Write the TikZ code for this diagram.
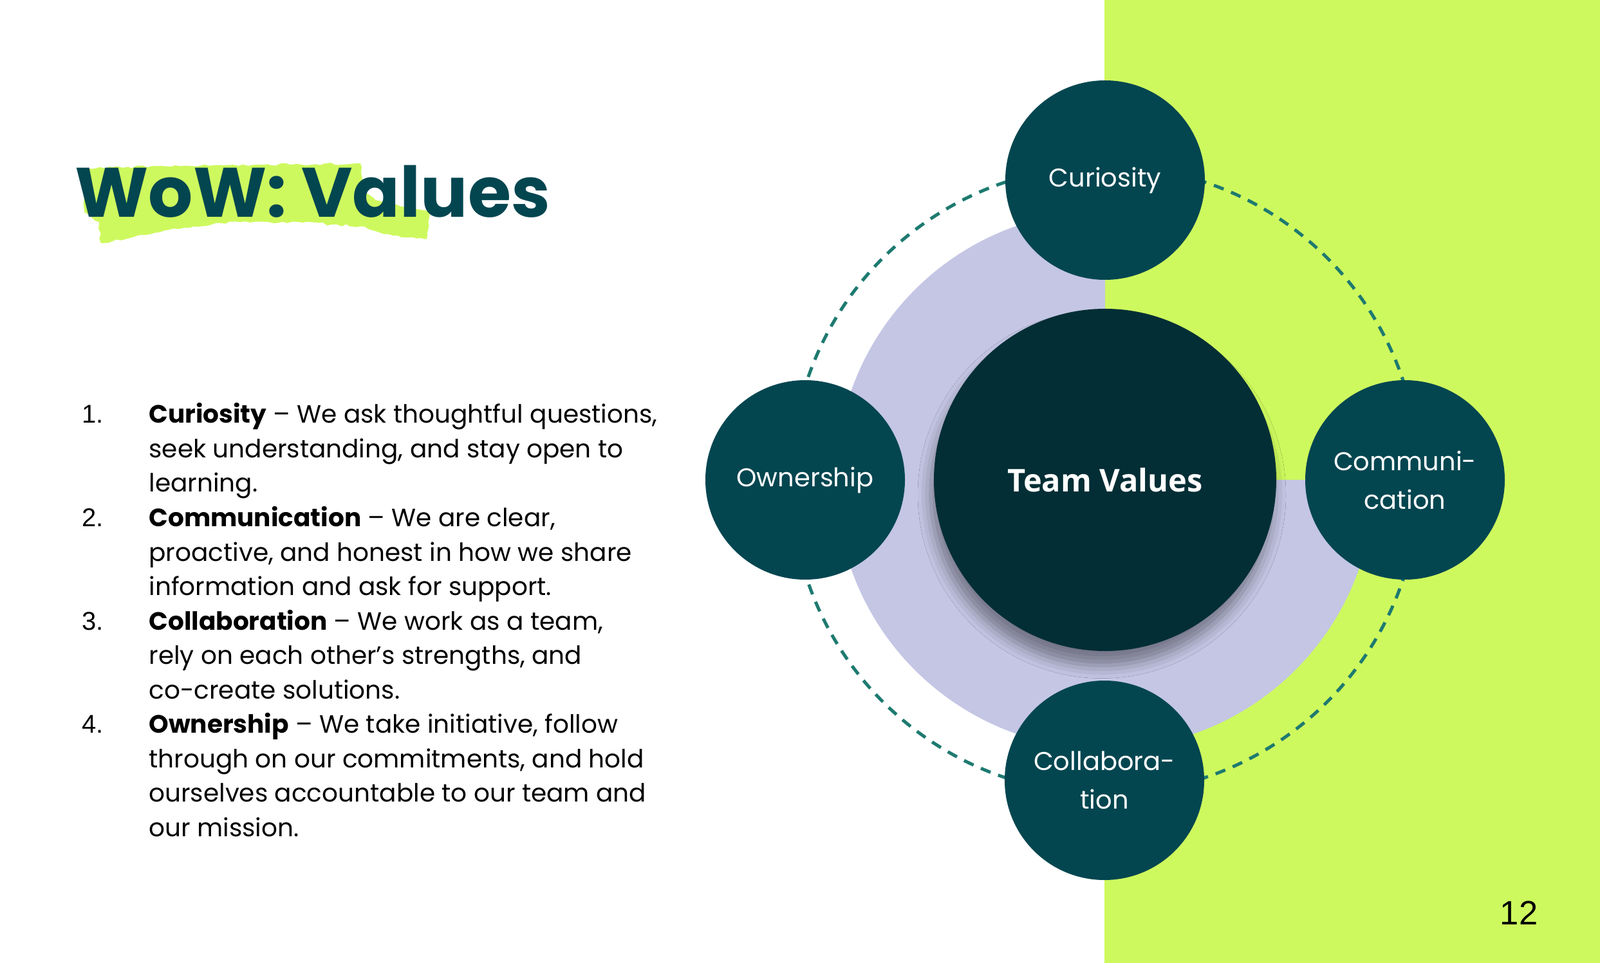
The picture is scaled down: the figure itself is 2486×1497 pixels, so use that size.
\documentclass[tikz,border=0pt]{standalone}
\usepackage{fontspec}
\setmainfont{Poppins}
\newfontfamily\teamfont{Open Sans}
\newfontfamily\numfont{Liberation Sans}
\usetikzlibrary{shadows.blur,decorations.pathmorphing}

\definecolor{limebg}{RGB}{206,249,94}
\definecolor{lavender}{RGB}{196,198,228}
\definecolor{satteal}{RGB}{3,70,80}
\definecolor{coreteal}{RGB}{3,46,53}
\definecolor{dashteal}{RGB}{30,122,112}

\tikzset{
  value/.style={circle, fill=satteal, minimum size=124pt, inner sep=0pt,
    text=white, align=center, font=\fontsize{16}{24}\selectfont},
  item/.style={anchor=base west, align=left, inner sep=0pt,
    font=\fontsize{15.6}{21.4}\selectfont},
  num/.style={anchor=base west, inner sep=0pt, font=\numfont\fontsize{16}{21.4}\selectfont}
}

\begin{document}
\begin{tikzpicture}[x=0.4pt, y=-0.4pt]
    \useasboundingbox (0,0) rectangle (2486,1497);

    % Background
    \fill[limebg] (1716,0) rectangle (2486,1497);

    % Brush stroke behind the title
    \fill[limebg, decorate, decoration={random steps, segment length=3pt, amplitude=0.8pt}]
      (131,262) -- (250,258) -- (400,256) -- (560,254) -- (566,300) -- (600,318)
      -- (640,322) -- (668,330) -- (662,372) -- (610,366) -- (560,352) -- (470,346)
      -- (380,344) -- (300,352) -- (240,362) -- (157,378) -- (154,345) -- (131,330) -- cycle;

    % Title
    \node[anchor=base west, inner sep=0pt, text=satteal,
      font=\fontsize{43.5}{50}\selectfont\bfseries] (title) at (116,338) {WoW: Values};

    % List (nodes sit on the baseline of their last line)
    \node[num] (num1) at (127,658) {1.};
    \node[item] (item1) at (231,765) {\textbf{Curiosity} – We ask thoughtful questions,\\
      seek understanding, and stay open to\\ learning.};
    \node[num] (num2) at (127,818.5) {2.};
    \node[item] (item2) at (231,925.5) {\textbf{Communication} – We are clear,\\
      proactive, and honest in how we share\\ information and ask for support.};
    \node[num] (num3) at (127,979) {3.};
    \node[item] (item3) at (231,1086) {\textbf{Collaboration} – We work as a team,\\
      rely on each other’s strengths, and\\ co-create solutions.};
    \node[num] (num4) at (127,1139.5) {4.};
    \node[item] (item4) at (231,1300) {\textbf{Ownership} – We take initiative, follow\\
      through on our commitments, and hold\\ ourselves accountable to our team and\\ our mission.};

    % Ring
    \fill[lavender] (1717,746) -- ++(418,0) arc[start angle=0, end angle=270, radius=418] -- cycle;
    \draw[dashteal, line width=2pt, dash pattern=on 6.5pt off 5pt] (1717,746) circle[radius=488];

    % Core
    \node[circle, fill=coreteal, minimum size=212.8pt, inner sep=0pt, text=white,
      font=\teamfont\bfseries\fontsize{19.5}{24}\selectfont,
      blur shadow={shadow xshift=-2pt, shadow yshift=-9pt, shadow blur radius=8pt, shadow opacity=40}]
      (team) at (1717,746) {Team Values};

    % Values
    \node[value] (curiosity) at (1717,280) {Curiosity};
    \node[value] (ownership) at (1251,746) {Ownership};
    \node[value] (communication) at (2183,746) {Communi-\\cation};
    \node[value] (collaboration) at (1716,1213) {Collabora-\\tion};

    % Page number
    \node[font=\numfont\fontsize{21}{25}\selectfont] (page) at (2360,1419) {12};
\end{tikzpicture}
\end{document}
